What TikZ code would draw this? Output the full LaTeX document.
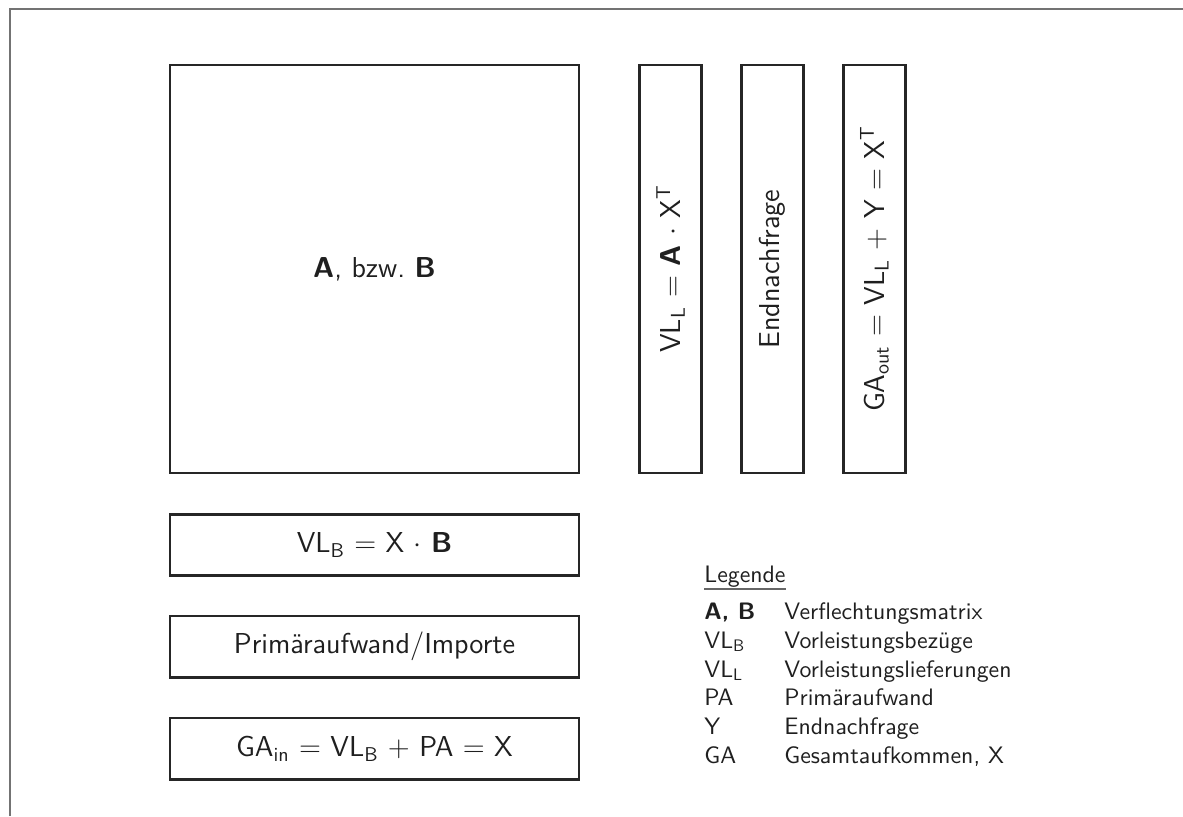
\documentclass[tikz,border=0pt]{standalone}
\usepackage{fontspec}
\renewcommand\familydefault{\sfdefault}
\newfontfamily\legfont{lmsans10-regular.otf}[BoldFont=lmsans10-bold.otf]
\usetikzlibrary{positioning}
\tikzset{
  boxstyle/.style={draw=black!85, line width=1.3pt, rectangle, inner sep=0pt, text=black!88,
    font=\fontsize{14.4}{17}\selectfont},
  bigbox/.style={boxstyle, minimum width=204.5pt, minimum height=204pt},
  colbox/.style={boxstyle, minimum width=31pt, minimum height=204pt},
  rowbox/.style={boxstyle, minimum width=204.5pt, minimum height=30.75pt},
  rottext/.style={rotate=90, inner sep=0pt, text=black!88, font=\fontsize{14.4}{17}\selectfont},
  legtext/.style={anchor=base west, inner sep=0pt, text=black!88, font=\legfont\fontsize{11.9}{14}\selectfont},
  framestyle/.style={draw=black!55, line width=1pt}
}
\begin{document}
\begin{tikzpicture}[x=0.5pt, y=-0.5pt]
\useasboundingbox (0,0) rectangle (1183,816);
\draw[framestyle] (9.5,816) -- (9.5,8.5) -- (1183,8.5);

% big matrix box
\node[bigbox] (AB) at (374.5,269) {\textbf{A}, bzw.\ \textbf{B}};

% column boxes
\node[colbox] (VLL) at (670.5,269) {};
\node[rottext] (VLLt) at (VLL.center) {VL\textsubscript{L} $=$ \textbf{A} $\cdot$ X\textsuperscript{T}};
\node[colbox] (EN) at (772.5,269) {};
\node[rottext] (ENt) at (EN.center) {Endnachfrage};
\node[colbox] (GAo) at (874.5,269) {};
\node[rottext] (GAot) at (GAo.center) {GA\textsubscript{out} $=$ VL\textsubscript{L} $+$ Y $=$ X\textsuperscript{T}};

% row boxes
\node[rowbox] (VLB) at (374.5,545) {VL\textsubscript{B} $=$ X $\cdot$ \textbf{B}};
\node[rowbox] (PI) at (374.5,646.7) {Primäraufwand/Importe};
\node[rowbox] (GAi) at (374.5,748.8) {GA\textsubscript{in} $=$ VL\textsubscript{B} $+$ PA $=$ X};

% legend
\node[legtext] (leg) at (704,582) {Legende};
\draw[black!60, line width=0.6pt] ([yshift=-3.5pt]leg.base west) -- ([yshift=-3.5pt]leg.base east);
\node[legtext] (k1) at (704,619.3) {\textbf{A, B}};
\node[legtext] (v1) at (784,619.3) {Verflechtungsmatrix};
\node[legtext] (k2) at (704,648.2) {VL\textsubscript{B}};
\node[legtext] (v2) at (784,648.2) {Vorleistungsbezüge};
\node[legtext] (k3) at (704,677) {VL\textsubscript{L}};
\node[legtext] (v3) at (784,677) {Vorleistungslieferungen};
\node[legtext] (k4) at (704,705.8) {PA};
\node[legtext] (v4) at (784,705.8) {Primäraufwand};
\node[legtext] (k5) at (704,734.5) {Y};
\node[legtext] (v5) at (784,734.5) {Endnachfrage};
\node[legtext] (k6) at (704,763.2) {GA};
\node[legtext] (v6) at (784,763.2) {Gesamtaufkommen, X};
\end{tikzpicture}
\end{document}
